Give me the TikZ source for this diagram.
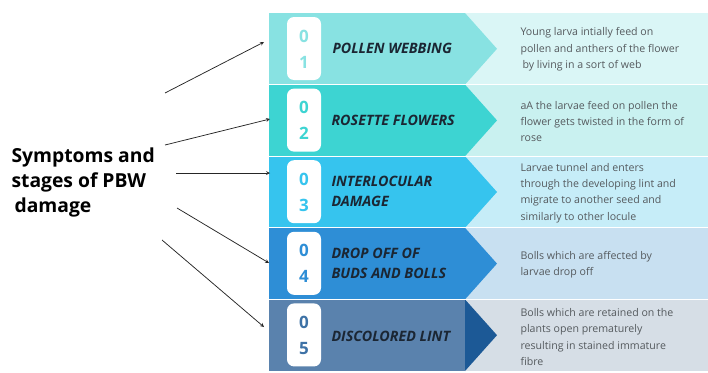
\documentclass[tikz,border=0pt]{standalone}
\usepackage{fontspec}
\setmainfont{Open Sans}
\definecolor{rowA}{HTML}{88E2E2}
\definecolor{rowB}{HTML}{3DD4D2}
\definecolor{rowC}{HTML}{36C4EE}
\definecolor{rowD}{HTML}{2E8ED6}
\definecolor{rowE}{HTML}{5A82AD}
\definecolor{tipE}{HTML}{1C5996}
\definecolor{panA}{HTML}{DAF6F6}
\definecolor{panB}{HTML}{C9F1F0}
\definecolor{panC}{HTML}{C6EDF8}
\definecolor{panD}{HTML}{C8E0F1}
\definecolor{panE}{HTML}{D6DEE6}
\definecolor{labelink}{HTML}{1B2633}
\definecolor{descink}{HTML}{555A5E}
\begin{document}
\begin{tikzpicture}[x=1pt, y=-1pt, >=stealth,
    badge/.style={fill=white, rounded corners=7pt},
    digit/.style={font=\fontsize{17}{17}\selectfont\bfseries},
    stage/.style={anchor=west, align=left, text=labelink,
        font=\fontsize{14.3}{20}\selectfont\bfseries\itshape},
    desc/.style={anchor=west, align=left, text=descink,
        font=\fontsize{10.6}{16.3}\selectfont},
    link/.style={->, line width=0.75pt, black!85}]
    \useasboundingbox (0,0) rectangle (708,372);

    % right hand panels
    \fill[panA] (465,13) rectangle (708,84.6);
    \fill[panB] (465,84.6) rectangle (708,156.2);
    \fill[panC] (465,156.2) rectangle (708,227.8);
    \fill[panD] (465,227.8) rectangle (708,299.4);
    \fill[panE] (465,299.4) rectangle (708,371);

    % chevrons
    \fill[rowA] (269,13) -- (465,13) -- (497,48.8) -- (465,84.6) -- (269,84.6) -- cycle;
    \fill[rowB] (269,84.6) -- (465,84.6) -- (497,120.4) -- (465,156.2) -- (269,156.2) -- cycle;
    \fill[rowC] (269,156.2) -- (465,156.2) -- (497,192) -- (465,227.8) -- (269,227.8) -- cycle;
    \fill[rowD] (269,227.8) -- (465,227.8) -- (497,263.6) -- (465,299.4) -- (269,299.4) -- cycle;
    \fill[rowE] (269,299.4) rectangle (465,371);
    \fill[tipE] (465,299.4) -- (497,335.2) -- (465,371) -- cycle;

    % thin white seams between the rows
    \foreach \y in {84.6,156.2,227.8,299.4}
        \draw[white, line width=1pt] (269,\y) -- (708,\y);

    % number badges
    \fill[badge] (287,17) rectangle (321,80);
    \fill[badge] (287,88.6) rectangle (321,151.6);
    \fill[badge] (287,160.2) rectangle (321,223.2);
    \fill[badge] (287,231.8) rectangle (321,294.8);
    \fill[badge] (287,303.4) rectangle (321,366.4);

    \node[digit, rowA] (n1a) at (304,36) {0};
    \node[digit, rowA] (n1b) at (304,62) {1};
    \node[digit, rowB] (n2a) at (304,107.6) {0};
    \node[digit, rowB] (n2b) at (304,133.6) {2};
    \node[digit, rowC] (n3a) at (304,179.2) {0};
    \node[digit, rowC] (n3b) at (304,205.2) {3};
    \node[digit, rowD] (n4a) at (304,250.8) {0};
    \node[digit, rowD] (n4b) at (304,276.8) {4};
    \node[digit, tipE!85] (n5a) at (304,322.4) {0};
    \node[digit, tipE!85] (n5b) at (304,348.4) {5};

    % stage names
    \node[stage] (s1) at (329,48.8) {POLLEN WEBBING};
    \node[stage] (s2) at (328,120.4) {ROSETTE FLOWERS};
    \node[stage] (s3) at (328,191) {INTERLOCULAR\\DAMAGE};
    \node[stage] (s4) at (328,263) {DROP OFF OF\\BUDS AND BOLLS};
    \node[stage] (s5) at (328,336.2) {DISCOLORED LINT};

    % descriptions
    \node[desc] (d1) at (517,49.5) {Young larva intially feed on\\pollen and anthers of the flower\\\hspace{2pt}by living in a sort of web};
    \node[desc] (d2) at (517,121.5) {aA the larvae feed on pollen the\\flower gets twisted in the form of\\rose};
    \node[desc] (d3) at (517,193) {Larvae tunnel and enters\\through the developing lint and\\migrate to another seed and\\similarly to other locule};
    \node[desc] (d4) at (517,265) {Bolls which are affected by\\larvae drop off};
    \node[desc] (d5) at (517,337) {Bolls which are retained on the\\plants open prematurely\\resulting in stained immature\\fibre};

    % title on the left
    \node[anchor=west, align=left, font=\fontsize{19.3}{25}\selectfont\bfseries]
        (title) at (8,182) {Symptoms and\\stages of PBW\\\hspace{3pt}damage};

    % arrows to the stages
    \coordinate (a1) at (165,93);
    \coordinate (a2) at (165,145);
    \coordinate (a3) at (176,173);
    \coordinate (a4) at (177,208);
    \coordinate (a5) at (162,240);
    \coordinate (b1) at (264,42);
    \coordinate (b2) at (270,119);
    \coordinate (b3) at (270,173);
    \coordinate (b4) at (269,263);
    \coordinate (b5) at (264,327);
    \draw[link] (a1) -- (b1);
    \draw[link] (a2) -- (b2);
    \draw[link] (a3) -- (b3);
    \draw[link] (a4) -- (b4);
    \draw[link] (a5) -- (b5);
\end{tikzpicture}
\end{document}
